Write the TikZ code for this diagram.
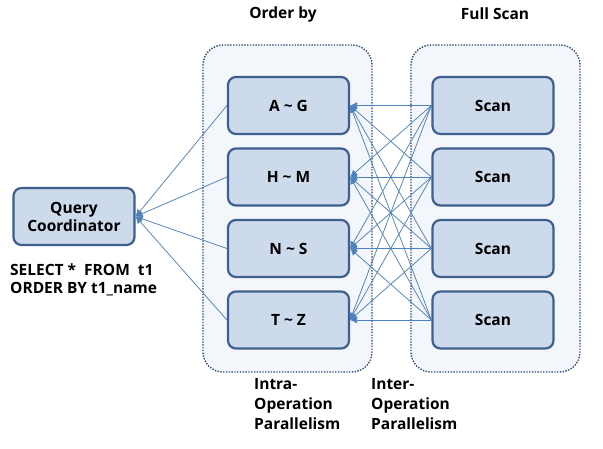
\documentclass[tikz,border=0pt]{standalone}
\usepackage{fontspec}
\setmainfont{Open Sans}
\usetikzlibrary{arrows.meta}
\definecolor{nodefill}{HTML}{CCDAEB}
\definecolor{nodedraw}{HTML}{3F5F8F}
\definecolor{grpfill}{HTML}{F3F6FA}
\definecolor{grpdraw}{HTML}{2F4B7C}
\definecolor{edgecol}{HTML}{4F81BD}
\tikzset{
  proc/.style={draw=nodedraw, fill=nodefill, line width=2.2pt, rounded corners=8pt,
    minimum width=121pt, minimum height=57pt, inner sep=0pt,
    font=\bfseries\fontsize{15.5}{18}\selectfont, align=center},
  grp/.style={draw=grpdraw, fill=grpfill, line width=1.4pt, dash pattern=on 1.4pt off 1.4pt,
    rounded corners=20pt, minimum width=169pt, minimum height=327pt, inner sep=0pt},
  conn/.style={draw=edgecol, line width=0.75pt},
  tip/.style={-{Latex[length=7pt,width=7pt]}},
  lbl/.style={font=\bfseries\fontsize{15.5}{20}\selectfont, align=left, inner sep=0pt}
}
\begin{document}
\begin{tikzpicture}[x=1pt,y=-1pt]
\useasboundingbox (0,0) rectangle (603,448);
\node[grp] (g1) at (287.5,208.5) {};
\node[grp] (g2) at (495.5,208.5) {};
\node[lbl] (t1) at (283,14) {Order by};
\node[lbl] (t2) at (495,14) {Full Scan};
\node[proc] (qc) at (74,216.5) {Query\\Coordinator};
\node[proc] (o1) at (288.5,105.5) {A \textasciitilde\ G};
\node[proc] (o2) at (288.5,177) {H \textasciitilde\ M};
\node[proc] (o3) at (288.5,248.5) {N \textasciitilde\ S};
\node[proc] (o4) at (288.5,320) {T \textasciitilde\ Z};
\foreach \i/\y in {1/105.5,2/177,3/248.5,4/320}
  \node[proc] (s\i) at (493,\y) {Scan};
\node[lbl, anchor=north west, font=\bfseries\fontsize{15.5}{18}\selectfont] (sql) at (10,264) {SELECT *\ \ FROM\ \ t1\\ORDER BY t1\_name};
\node[lbl, anchor=north west] (intra) at (254,378) {Intra-\\Operation\\Parallelism};
\node[lbl, anchor=north west] (inter) at (371,378) {Inter-\\Operation\\Parallelism};
\foreach \i in {1,...,4}
  \draw[conn, tip] (o\i.west) -- (qc.east);
\foreach \i in {1,...,4}
  \foreach \j in {1,...,4}
    \draw[conn, tip] (s\j.west) -- (o\i.east);
\end{tikzpicture}
\end{document}
